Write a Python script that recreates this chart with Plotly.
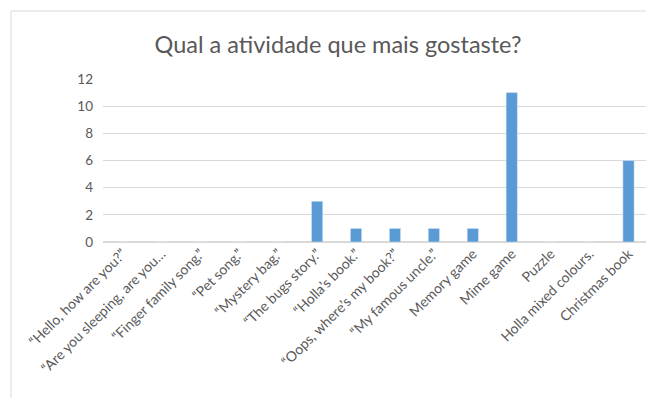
import plotly.graph_objects as go

categories = [
    "“Hello, how are you?”",
    "“Are you sleeping, are you…",
    "“Finger family song.”",
    "“Pet song.”",
    "“Mystery bag.”",
    "“The bugs story.”",
    "“Holla’s book.”",
    "“Oops, where’s my book?”",
    "“My famous uncle.”",
    "Memory game",
    "Mime game",
    "Puzzle",
    "Holla mixed colours.",
    "Christmas book",
]
values = [0, 0, 0, 0, 0, 3, 1, 1, 1, 1, 11, 0, 0, 6]
y_ticks = [0, 2, 4, 6, 8, 10, 12]

# page body adds an 8px offset; compensate
OFF = 8
W, H = 654, 398
ml, mr, mt, mb = 103 - OFF, 14, 79 - OFF, 164
pw = W - ml - mr
ph = H - mt - mb

fig = go.Figure(go.Bar(x=categories, y=values, marker_color="#5b9bd5", width=0.29))

# chart border (left and top edges visible)
bx = (11 - OFF - ml) / pw
by = (H - mb - (11 - OFF)) / ph
fig.add_shape(type="line", xref="paper", yref="paper", x0=bx, x1=bx, y0=-2, y1=by,
              line=dict(color="#d9d9d9", width=1))
fig.add_shape(type="line", xref="paper", yref="paper", x0=bx, x1=1.2, y0=by, y1=by,
              line=dict(color="#d9d9d9", width=1))

fig.update_layout(
    width=W, height=H,
    margin=dict(l=ml, r=mr, t=mt, b=mb, autoexpand=False),
    paper_bgcolor="white", plot_bgcolor="white",
    font=dict(family="Lato, sans-serif", color="#595959"),
    title=dict(text="Qual a atividade que mais gostaste?", x=(338 - OFF - ml) / pw + ml / W * 0,
               xref="paper", xanchor="center",
               y=1 - (45 - OFF) / H, yanchor="middle", font=dict(size=23.5, color="#595959")),
    showlegend=False,
)
fig.update_xaxes(tickangle=-45, tickfont=dict(size=14, color="#595959"),
                 showgrid=False, showline=False, ticks="", automargin=False)
fig.update_yaxes(range=[0, 12], tickvals=y_ticks, showgrid=True, gridcolor="#d9d9d9",
                 zeroline=True, zerolinecolor="#d9d9d9", tickfont=dict(size=13.5, color="#595959"),
                 ticks="", ticklabelstandoff=9, automargin=False)

fig.write_html("out.html")
